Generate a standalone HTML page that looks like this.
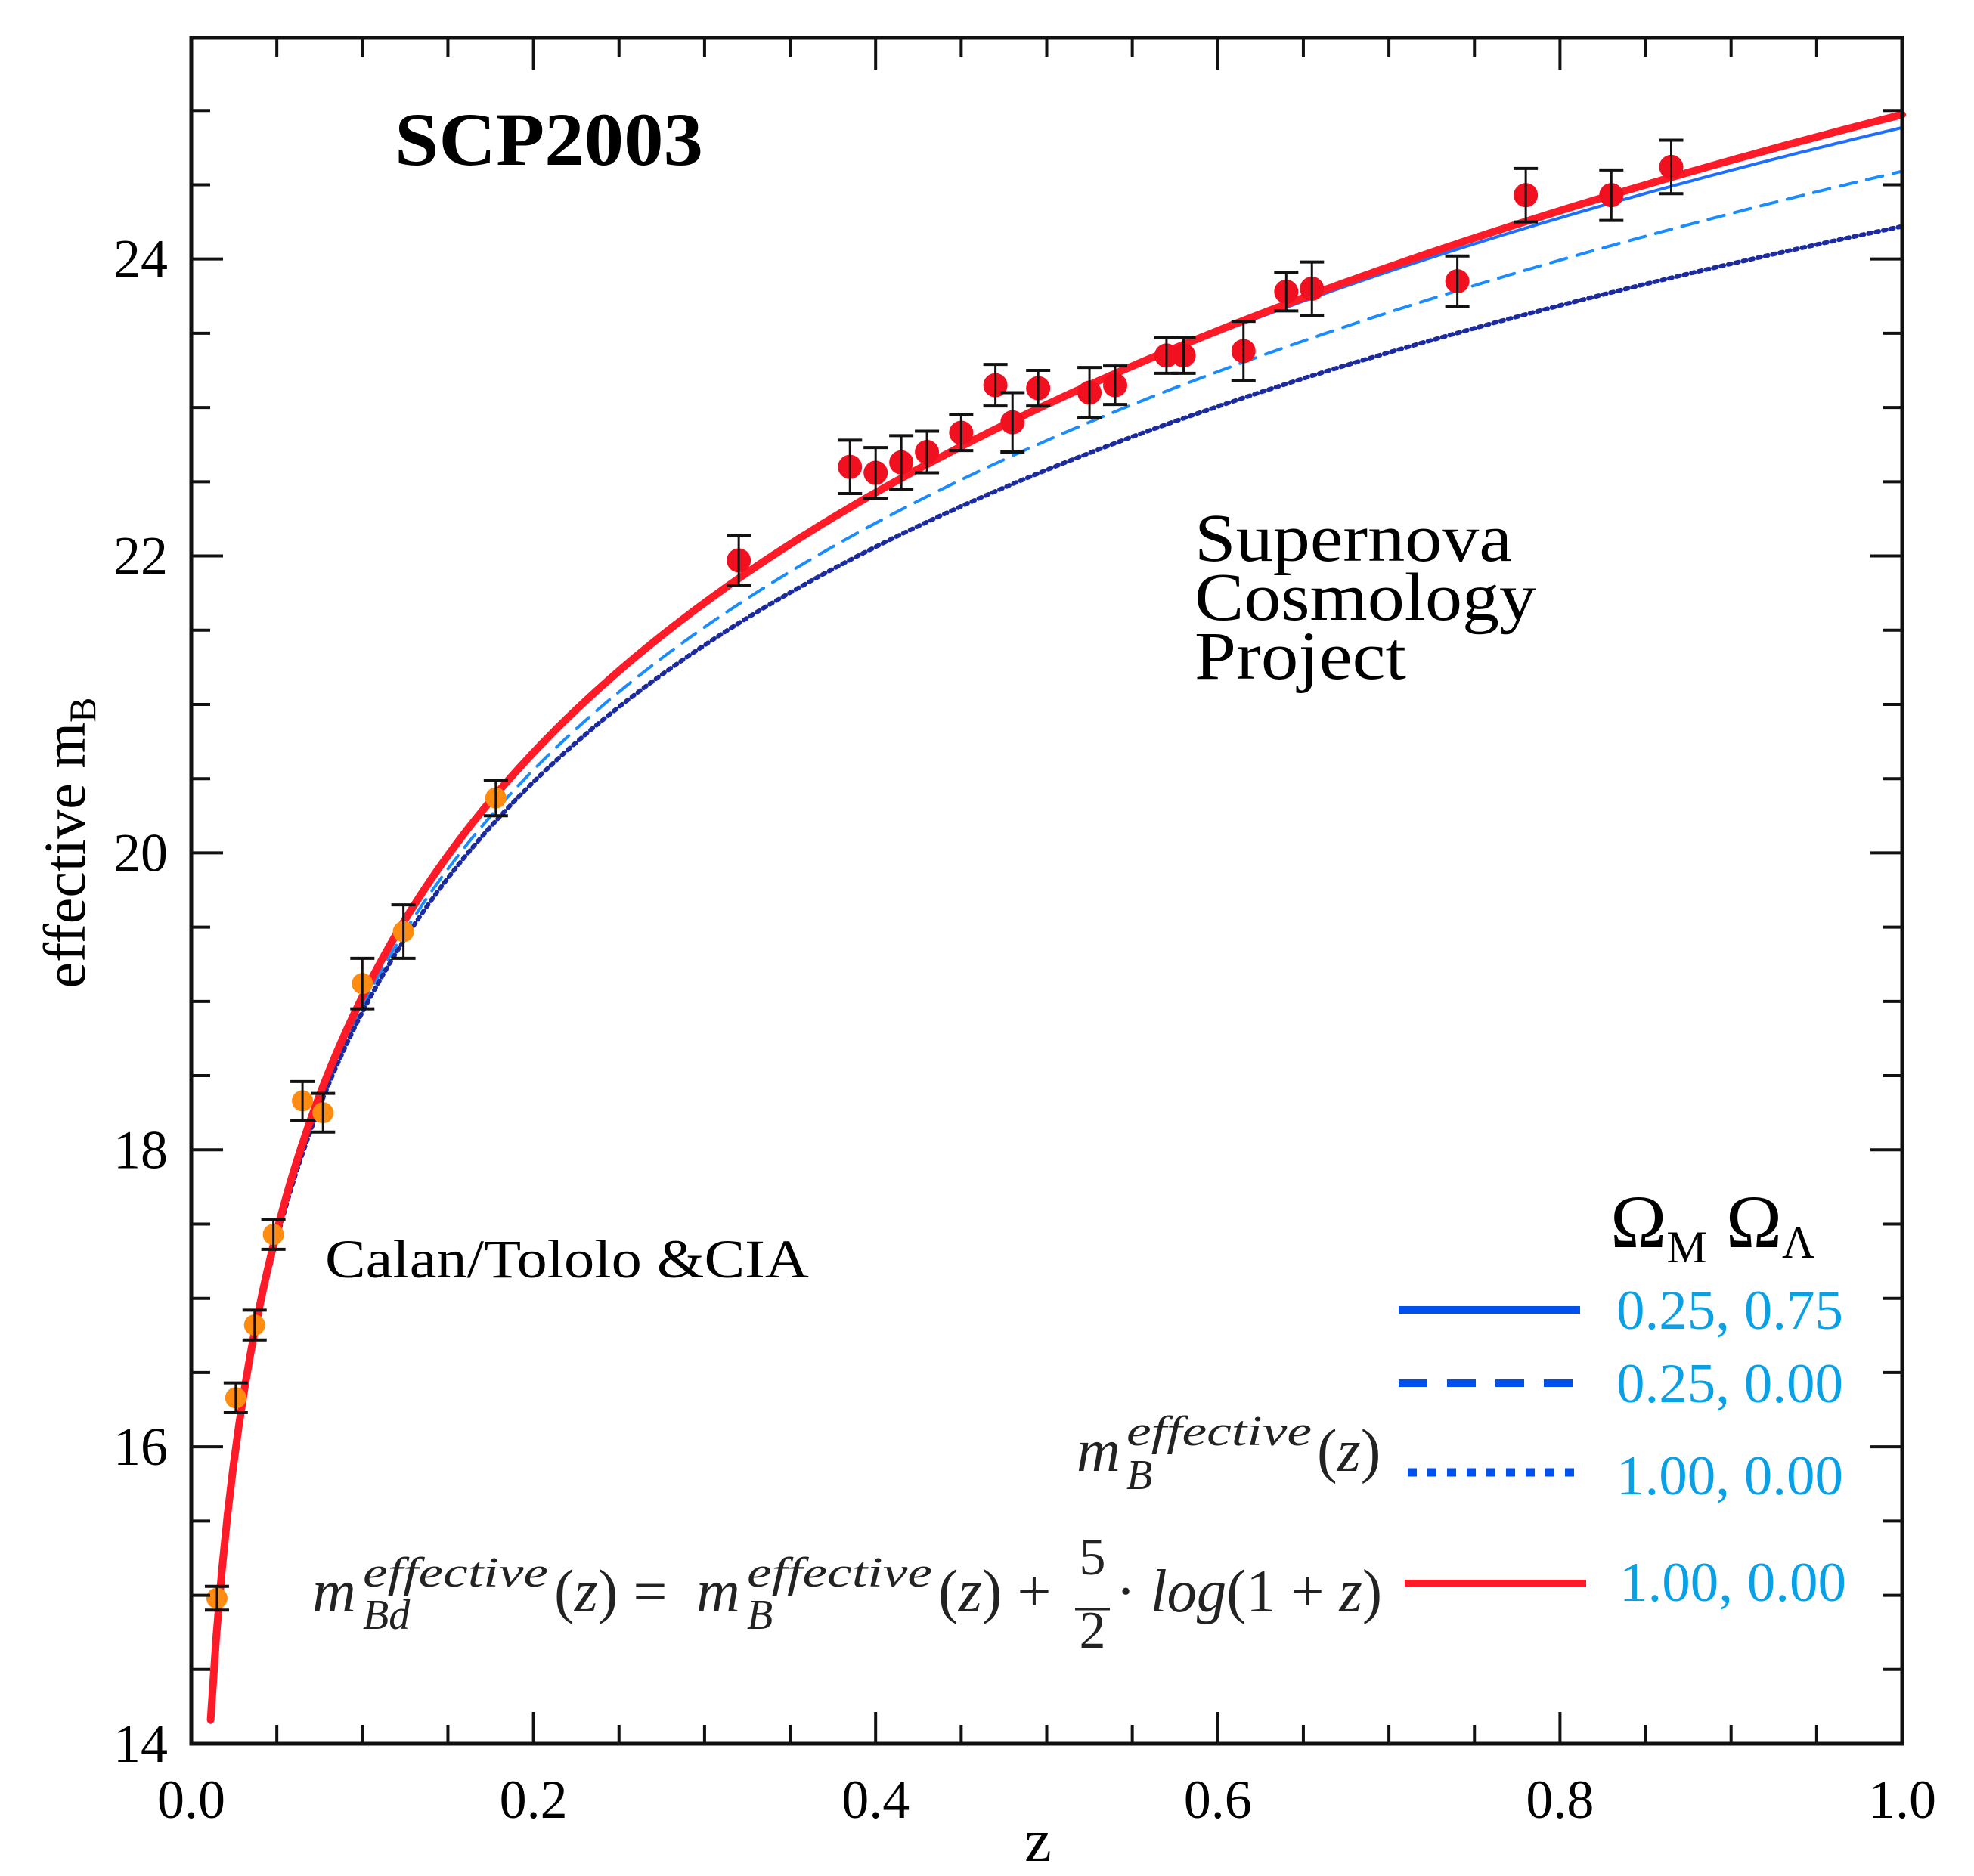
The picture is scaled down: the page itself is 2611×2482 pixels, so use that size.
<!DOCTYPE html>
<html><head><meta charset="utf-8">
<style>
html,body{margin:0;padding:0;background:#fff;}
svg{display:block;}
text{font-family:"Liberation Serif",serif;}
</style></head>
<body>
<svg id="chart" width="2611" height="2482" viewBox="0 0 2611 2482" xmlns="http://www.w3.org/2000/svg">
<g id="curves"></g>
<g id="points"></g>
<g id="axes"></g>
<text x="522" y="218" font-size="100" font-weight="bold" textLength="408" lengthAdjust="spacingAndGlyphs">SCP2003</text>
<g font-size="90">
<text x="1580" y="742" textLength="420" lengthAdjust="spacingAndGlyphs">Supernova</text>
<text x="1580" y="820" textLength="452" lengthAdjust="spacingAndGlyphs">Cosmology</text>
<text x="1580" y="898" textLength="280" lengthAdjust="spacingAndGlyphs">Project</text>
</g>
<text x="430" y="1690" font-size="72" textLength="640" lengthAdjust="spacingAndGlyphs">Calan/Tololo &amp;CIA</text>
<text transform="translate(112,1115) rotate(-90)" text-anchor="middle" font-size="78">effective m<tspan font-size="50" dy="14">B</tspan></text>
<text x="1373" y="2462" text-anchor="middle" font-size="80">z</text>
<g>
<text x="2130" y="1650" font-size="100">Ω<tspan font-size="60" dy="20">M</tspan><tspan font-size="100" dy="-20"> Ω</tspan><tspan font-size="60" dy="14">Λ</tspan></text>
<line x1="1850" y1="1733" x2="2090" y2="1733" stroke="#0050f0" stroke-width="10"/>
<text x="2138" y="1758" font-size="74" fill="#0aa0e6" textLength="300" lengthAdjust="spacingAndGlyphs">0.25, 0.75</text>
<line x1="1850" y1="1830" x2="2090" y2="1830" stroke="#0050f0" stroke-width="10" stroke-dasharray="38,26"/>
<text x="2138" y="1855" font-size="74" fill="#0aa0e6" textLength="300" lengthAdjust="spacingAndGlyphs">0.25, 0.00</text>
<line x1="1862" y1="1948" x2="2090" y2="1948" stroke="#0050f0" stroke-width="11" stroke-dasharray="12,14"/>
<text x="2138" y="1977" font-size="74" fill="#0aa0e6" textLength="300" lengthAdjust="spacingAndGlyphs">1.00, 0.00</text>
<line x1="1858" y1="2095" x2="2098" y2="2095" stroke="#ff1a28" stroke-width="10"/>
<text x="2142" y="2118" font-size="74" fill="#0aa0e6" textLength="300" lengthAdjust="spacingAndGlyphs">1.00, 0.00</text>
</g>
<g fill="#222" font-style="italic">
<text x="1424" y="1946" font-size="80">m</text>
<text x="1490" y="1912" font-size="56" textLength="245" lengthAdjust="spacingAndGlyphs">effective</text>
<text x="1490" y="1970" font-size="56">B</text>
<text x="1742" y="1946" font-size="80"><tspan font-style="normal">(</tspan>z<tspan font-style="normal">)</tspan></text>
</g>
<g fill="#222" font-style="italic">
<text x="413" y="2132" font-size="80">m</text>
<text x="480" y="2099" font-size="56" textLength="245" lengthAdjust="spacingAndGlyphs">effective</text>
<text x="480" y="2155" font-size="56">Bd</text>
<text x="733" y="2132" font-size="80"><tspan font-style="normal">(</tspan>z<tspan font-style="normal">) = </tspan></text>
<text x="921" y="2132" font-size="80">m</text>
<text x="988" y="2099" font-size="56" textLength="245" lengthAdjust="spacingAndGlyphs">effective</text>
<text x="988" y="2155" font-size="56">B</text>
<text x="1241" y="2132" font-size="80"><tspan font-style="normal">(</tspan>z<tspan font-style="normal">) +</tspan></text>
<text x="1445" y="2083" font-size="70" font-style="normal" text-anchor="middle">5</text>
<line x1="1422" y1="2129" x2="1468" y2="2129" stroke="#222" stroke-width="3"/>
<text x="1445" y="2180" font-size="70" font-style="normal" text-anchor="middle">2</text>
<text x="1476" y="2132" font-size="80" textLength="352" lengthAdjust="spacingAndGlyphs"><tspan font-style="normal">· </tspan>log<tspan font-style="normal">(1 + </tspan>z<tspan font-style="normal">)</tspan></text>
</g>
</svg>
<script>
// ---- data ----
const redZ   = [0.32,0.385,0.40,0.415,0.43,0.45,0.47,0.48,0.495,0.525,0.54,0.57,0.58,0.615,0.64,0.655,0.74,0.78,0.83,0.865];
const redM   = [21.97,22.60,22.56,22.63,22.70,22.83,23.15,22.90,23.13,23.10,23.15,23.35,23.35,23.38,23.78,23.80,23.85,24.43,24.43,24.62];
const redErr = [0.17,0.18,0.17,0.18,0.14,0.12,0.14,0.20,0.12,0.17,0.13,0.12,0.12,0.20,0.13,0.18,0.17,0.18,0.17,0.18];
const orangeZ   = [0.015,0.026,0.037,0.048,0.065,0.077,0.100,0.124,0.178];
const orangeM   = [14.98,16.33,16.82,17.43,18.33,18.25,19.12,19.47,20.37];
const orangeErr = [0.08,0.10,0.10,0.10,0.13,0.13,0.17,0.18,0.12];
const modelOmegaM = [0.25,0.25,1.00,1.00];
const modelOmegaL = [0.75,0.00,0.00,0.00];
const modelDimmed = [0,0,0,1];
const magOffset = 23.876;
const xTicks = [0,0.2,0.4,0.6,0.8,1.0];
const xTickLabels = ["0.0","0.2","0.4","0.6","0.8","1.0"];
const yTicks = [14,16,18,20,22,24];
const yTickLabels = ["14","16","18","20","22","24"];

// ---- axes ----
const X0=253,X1=2516,Y0=2307,Y1=50;
const zMin=0,zMax=1,mMin=14,mMax=25.49;
const sx=z=>X0+(z-zMin)/(zMax-zMin)*(X1-X0);
const sy=m=>Y0-(m-mMin)/(mMax-mMin)*(Y0-Y1);
const NS='http://www.w3.org/2000/svg';
function mk(tag,parent,attrs){const e=document.createElementNS(NS,tag);for(const k in attrs)e.setAttribute(k,attrs[k]);parent.appendChild(e);return e;}

function lumDist(z,om,ol){
  const ok=1-om-ol;const n=400;let s=0;
  for(let i=0;i<n;i++){const zz=(i+0.5)/n*z;s+=1/Math.sqrt(om*Math.pow(1+zz,3)+ok*Math.pow(1+zz,2)+ol);}
  s*=z/n;let dc=s;
  if(ok>1e-6){dc=Math.sinh(Math.sqrt(ok)*s)/Math.sqrt(ok);}else if(ok<-1e-6){dc=Math.sin(Math.sqrt(-ok)*s)/Math.sqrt(-ok);}
  return (1+z)*dc;
}

const curves=document.getElementById('curves');
const styles=[
 {stroke:'#1f6fff',w:4,dash:''},
 {stroke:'#1a8cff',w:4,dash:'22,14'},
 {stroke:'#1b2a9e',w:6,dash:'4,6'},
 {stroke:'#ff1a28',w:10,dash:''}
];
const names=['curve-lcdm','curve-open','curve-eds','curve-eds-dimmed'];
for(let k=0;k<modelOmegaM.length;k++){
  let d='';
  for(let i=0;i<=300;i++){
    const z=0.008+(1-0.008)*i/300;
    let m=magOffset+5*Math.log10(lumDist(z,modelOmegaM[k],modelOmegaL[k]));
    if(modelDimmed[k])m+=2.5*Math.log10(1+z);
    if(m<mMin)continue;
    d+=(d?'L':'M')+sx(z).toFixed(1)+','+sy(m).toFixed(1);
  }
  const p=mk('path',curves,{d:d,fill:'none',stroke:styles[k].stroke,'stroke-width':styles[k].w,'stroke-dasharray':styles[k].dash,'stroke-linecap':'round'});
  
  
}

const pts=document.getElementById('points');
function drawPts(zs,ms,es,color,r,nm){
  for(let i=0;i<zs.length;i++){
    const g=mk('g',pts,{});
    
    
    const x=sx(zs[i]),yt=sy(ms[i]+es[i]),yb=sy(ms[i]-es[i]);
    mk('circle',g,{cx:x,cy:sy(ms[i]),r:r,fill:color});
    mk('line',g,{x1:x,y1:yt,x2:x,y2:yb,stroke:'#111','stroke-width':3});
    mk('line',g,{x1:x-16,y1:yt,x2:x+16,y2:yt,stroke:'#111','stroke-width':4});
    mk('line',g,{x1:x-16,y1:yb,x2:x+16,y2:yb,stroke:'#111','stroke-width':4});
  }
}
drawPts(orangeZ,orangeM,orangeErr,'#ff8c10',14,'orange-point');
drawPts(redZ,redM,redErr,'#f01020',16,'red-point');

const ax=document.getElementById('axes');
const frame=mk('rect',ax,{x:X0,y:Y1,width:X1-X0,height:Y0-Y1,fill:'none',stroke:'#111','stroke-width':5});


for(let i=0;i<=20;i++){
  const z=i*0.05,x=sx(z),L=(i%4===0)?42:25;
  mk('line',ax,{x1:x,y1:Y0,x2:x,y2:Y0-L,stroke:'#111','stroke-width':4});
  mk('line',ax,{x1:x,y1:Y1,x2:x,y2:Y1+L,stroke:'#111','stroke-width':4});
}
for(let i=0;i<=22;i++){
  const m=14+i*0.5;if(m>mMax)break;const y=sy(m),L=(i%4===0)?42:25;
  mk('line',ax,{x1:X0,y1:y,x2:X0+L,y2:y,stroke:'#111','stroke-width':4});
  mk('line',ax,{x1:X1,y1:y,x2:X1-L,y2:y,stroke:'#111','stroke-width':4});
}
xTicks.forEach((v,i)=>{
  const t=mk('text',ax,{x:sx(v),y:2405,'text-anchor':'middle','font-size':72});
  t.textContent=xTickLabels[i];
  
  
});
yTicks.forEach((v,i)=>{
  const t=mk('text',ax,{x:222,y:sy(v)+24,'text-anchor':'end','font-size':72});
  t.textContent=yTickLabels[i];
  
  
});
</script>
</body></html>
